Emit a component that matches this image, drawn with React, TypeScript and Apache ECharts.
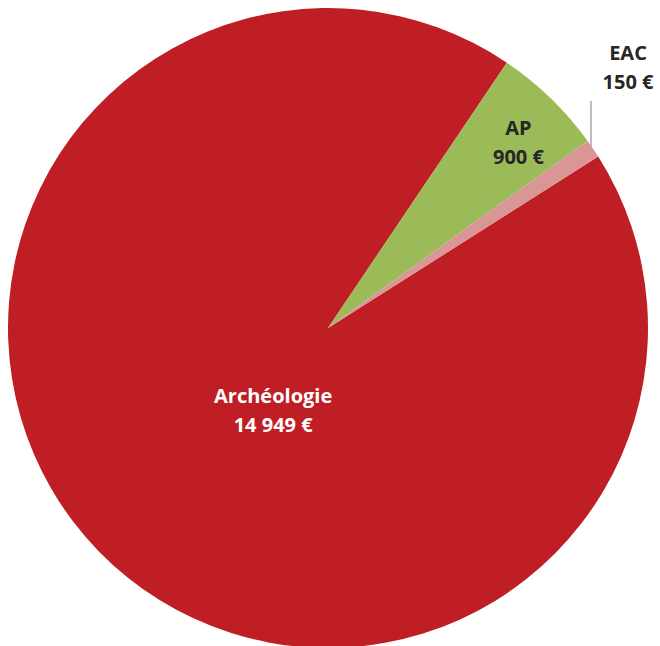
import React, { useEffect, useRef } from "react";
import * as echarts from "echarts";

const categories = ["Archéologie", "AP", "EAC"];
const values = [14949, 900, 150];
const valueLabels = ["14 949 €", "900 €", "150 €"];
const colors = ["#BE1E24", "#9BBB59", "#D99694"];
const labelColors = ["#FFFFFF", "#262626", "#262626"];
const labelOffsets: number[][] = [[62, -32], [77, -69], [0, 0]];

export default function App() {
  const ref = useRef<HTMLDivElement>(null);
  useEffect(() => {
    if (!ref.current) return;
    const chart = echarts.init(ref.current, undefined, { renderer: "svg" });
    const data = categories.map((name, i) => ({
      name,
      value: values[i],
      itemStyle: { color: colors[i] },
      label:
        i < 2
          ? {
              show: true,
              position: "inside",
              color: labelColors[i],
              offset: labelOffsets[i],
            }
          : {
              show: true,
              position: "outside",
              color: labelColors[i],
            },
      labelLine:
        i < 2
          ? { show: false }
          : { show: true, length: 10, length2: 0, lineStyle: { color: "#A6A6A6", width: 1.5 } },
    }));
    chart.setOption({
      animation: false,
      backgroundColor: "#FFFFFF",
      series: [
        {
          type: "pie",
          center: [328, 328],
          radius: [0, 320],
          startAngle: 90 - 57.6,
          clockwise: true,
          avoidLabelOverlap: false,
          data,
          label: {
            fontFamily: "Open Sans",
            fontWeight: "bold",
            fontSize: 20,
            lineHeight: 29,
            align: "center",
            formatter: (p: any) => `${p.name}\n${valueLabels[p.dataIndex]}`,
          },
          labelLayout: (params: any) => {
            if (params.dataIndex === 2) {
              const pts = params.labelLinePoints;
              const p0 = pts && pts[0] ? pts[0] : [591, 149];
              const x0 = p0[0] - 2;
              return {
                x: 628,
                y: 67,
                align: "center",
                verticalAlign: "middle",
                labelLinePoints: [[x0, p0[1]], [x0, 101]],
              };
            }
            return {};
          },
        },
      ],
    });
    return () => chart.dispose();
  }, []);
  return (
    <div
      ref={ref}
      style={{ position: "fixed", left: 0, top: 0, width: 660, height: 646 }}
    />
  );
}
